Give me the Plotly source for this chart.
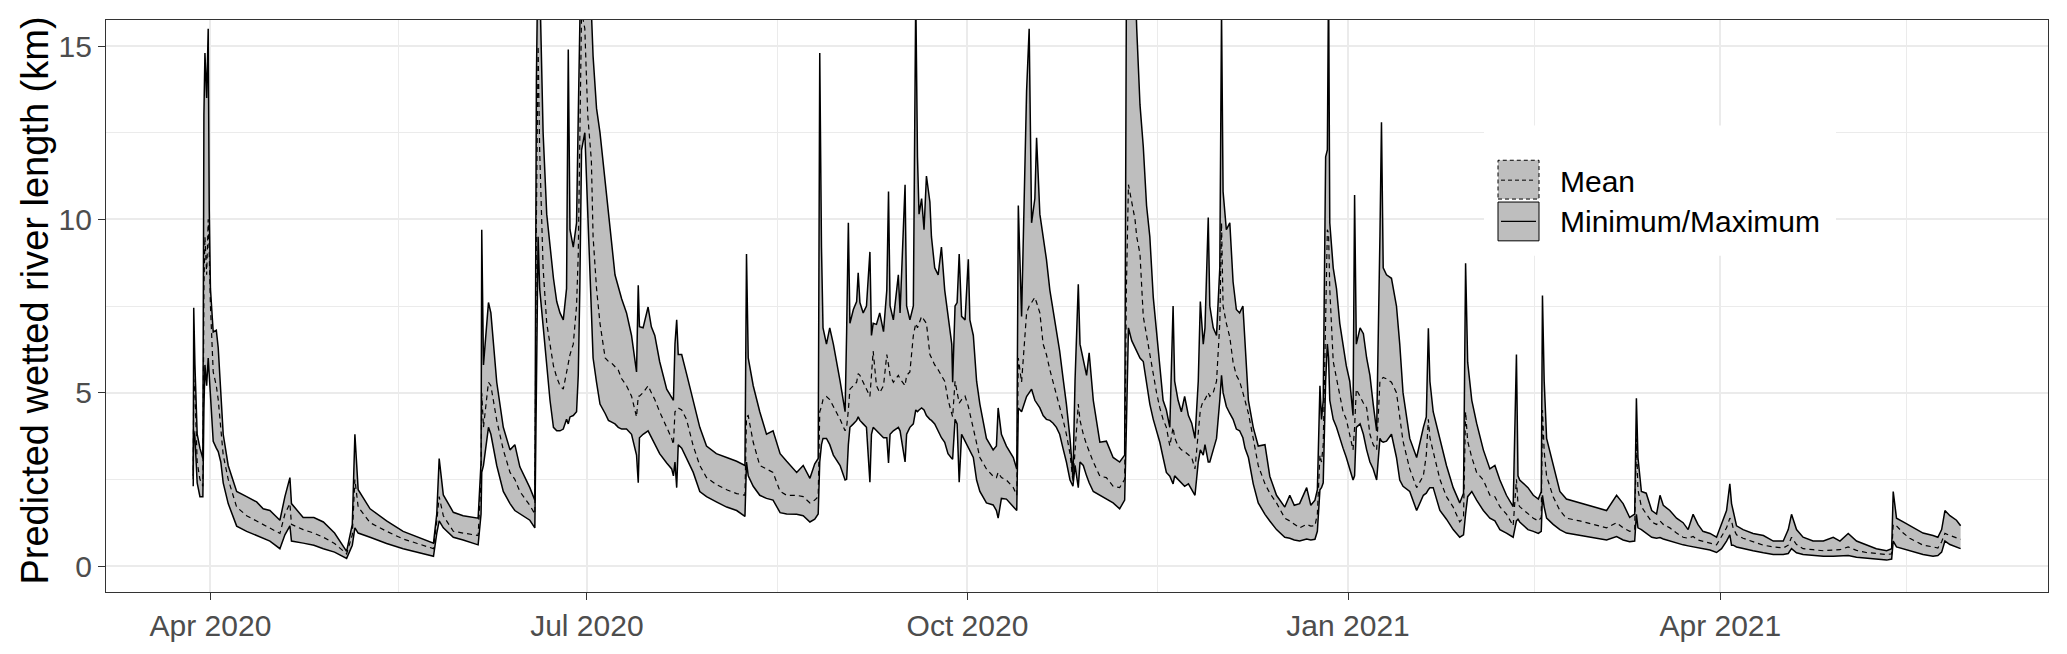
import plotly.graph_objects as go

# ---------------- data ----------------
dates = [
 "2020-03-27 20:00","2020-03-27 23:00","2020-03-28 06:00","2020-03-28 19:00","2020-03-29 11:00","2020-03-30 04:00",
 "2020-03-30 10:00","2020-03-30 16:00","2020-03-31 02:00","2020-03-31 11:00","2020-03-31 17:00","2020-04-01 00:00",
 "2020-04-01 16:00","2020-04-02 10:00","2020-04-02 21:00","2020-04-03 12:00","2020-04-04 02:00","2020-04-05 07:00",
 "2020-04-07 08:00","2020-04-09 18:00","2020-04-12 04:00","2020-04-13 18:00","2020-04-15 09:00","2020-04-17 19:00",
 "2020-04-19 00:00","2020-04-20 05:00","2020-04-20 14:00","2020-04-23 10:00","2020-04-26 00:00","2020-04-28 07:00",
 "2020-05-01 00:00","2020-05-03 22:00","2020-05-05 07:00","2020-05-05 22:00","2020-05-06 17:00","2020-05-09 14:00",
 "2020-05-13 14:00","2020-05-17 14:00","2020-05-21 00:00","2020-05-24 22:00","2020-05-25 17:00","2020-05-26 07:00",
 "2020-05-27 07:00","2020-05-29 17:00","2020-06-01 02:00","2020-06-04 17:00","2020-06-05 10:00","2020-06-05 14:00",
 "2020-06-06 00:00","2020-06-07 05:00","2020-06-07 19:00","2020-06-09 05:00","2020-06-10 19:00","2020-06-12 10:00",
 "2020-06-13 14:00","2020-06-14 19:00","2020-06-17 05:00","2020-06-18 10:00","2020-06-18 19:00","2020-06-19 05:00",
 "2020-06-19 14:00","2020-06-20 10:00","2020-06-21 07:00","2020-06-22 02:00","2020-06-22 22:00","2020-06-23 17:00",
 "2020-06-24 12:00","2020-06-25 07:00","2020-06-26 02:00","2020-06-26 12:00","2020-06-26 22:00","2020-06-27 17:00",
 "2020-06-28 12:00","2020-06-28 22:00","2020-06-29 07:00","2020-06-29 17:00","2020-06-30 12:00","2020-07-01 05:00",
 "2020-07-02 02:00","2020-07-02 12:00","2020-07-03 08:00","2020-07-04 04:00","2020-07-05 10:00","2020-07-06 05:00",
 "2020-07-07 00:00","2020-07-07 19:00","2020-07-08 14:00","2020-07-09 10:00","2020-07-10 14:00","2020-07-11 19:00",
 "2020-07-13 00:00","2020-07-13 10:00","2020-07-13 17:00","2020-07-14 14:00","2020-07-15 19:00","2020-07-16 14:00",
 "2020-07-17 10:00","2020-07-18 14:00","2020-07-20 07:00","2020-07-21 12:00","2020-07-21 22:00","2020-07-22 07:00",
 "2020-07-22 17:00","2020-07-23 02:00","2020-07-23 22:00","2020-07-25 02:00","2020-07-26 17:00","2020-07-28 07:00",
 "2020-07-29 22:00","2020-08-01 07:00","2020-08-03 19:00","2020-08-06 05:00","2020-08-08 05:00","2020-08-08 14:00",
 "2020-08-09 00:00","2020-08-10 05:00","2020-08-11 19:00","2020-08-13 10:00","2020-08-15 00:00","2020-08-16 17:00",
 "2020-08-18 07:00","2020-08-20 17:00","2020-08-22 07:00","2020-08-23 22:00","2020-08-25 02:00","2020-08-25 22:00",
 "2020-08-26 07:00","2020-08-26 17:00","2020-08-27 02:00","2020-08-27 22:00","2020-08-28 17:00","2020-08-29 14:00",
 "2020-08-31 05:00","2020-09-01 10:00","2020-09-01 19:00","2020-09-02 05:00","2020-09-02 14:00","2020-09-03 10:00",
 "2020-09-04 05:00","2020-09-04 14:00","2020-09-05 00:00","2020-09-05 19:00","2020-09-06 14:00","2020-09-07 10:00",
 "2020-09-07 19:00","2020-09-08 05:00","2020-09-09 00:00","2020-09-09 19:00","2020-09-10 17:00","2020-09-11 12:00",
 "2020-09-11 22:00","2020-09-12 07:00","2020-09-13 02:00","2020-09-14 07:00","2020-09-14 17:00","2020-09-15 22:00",
 "2020-09-16 07:00","2020-09-17 02:00","2020-09-17 22:00","2020-09-18 12:00","2020-09-18 22:00","2020-09-19 07:00",
 "2020-09-19 22:00","2020-09-20 12:00","2020-09-21 02:00","2020-09-21 22:00","2020-09-22 07:00","2020-09-23 02:00",
 "2020-09-23 22:00","2020-09-24 17:00","2020-09-25 12:00","2020-09-26 07:00","2020-09-27 05:00","2020-09-27 10:00",
 "2020-09-28 00:00","2020-09-28 12:00","2020-09-29 00:00","2020-09-29 14:00","2020-09-30 10:00","2020-10-01 05:00",
 "2020-10-01 14:00","2020-10-02 10:00","2020-10-03 05:00","2020-10-04 00:00","2020-10-05 14:00","2020-10-07 05:00",
 "2020-10-08 00:00","2020-10-08 10:00","2020-10-09 05:00","2020-10-10 10:00","2020-10-12 02:00","2020-10-12 22:00",
 "2020-10-13 07:00","2020-10-14 02:00","2020-10-15 07:00","2020-10-15 22:00","2020-10-16 12:00","2020-10-17 07:00",
 "2020-10-17 17:00","2020-10-18 12:00","2020-10-19 07:00","2020-10-20 02:00","2020-10-20 22:00","2020-10-21 17:00",
 "2020-10-22 12:00","2020-10-23 07:00","2020-10-24 02:00","2020-10-24 22:00","2020-10-25 19:00","2020-10-26 12:00",
 "2020-10-27 00:00","2020-10-27 19:00","2020-10-28 05:00","2020-10-29 00:00","2020-10-29 19:00","2020-10-30 10:00",
 "2020-10-31 10:00","2020-11-02 00:00","2020-11-03 14:00","2020-11-05 05:00","2020-11-06 19:00","2020-11-08 00:00",
 "2020-11-08 10:00","2020-11-08 22:00","2020-11-09 17:00","2020-11-10 12:00","2020-11-10 22:00","2020-11-11 17:00",
 "2020-11-12 12:00","2020-11-13 07:00","2020-11-14 02:00","2020-11-14 22:00","2020-11-15 17:00","2020-11-16 12:00",
 "2020-11-17 07:00","2020-11-18 02:00","2020-11-18 22:00","2020-11-19 17:00","2020-11-20 02:00","2020-11-20 22:00",
 "2020-11-21 17:00","2020-11-22 12:00","2020-11-23 10:00","2020-11-24 05:00","2020-11-25 00:00","2020-11-25 19:00",
 "2020-11-26 07:00","2020-11-27 00:00","2020-11-27 10:00","2020-11-28 05:00","2020-11-28 14:00","2020-11-29 10:00",
 "2020-11-30 05:00","2020-12-01 00:00","2020-12-01 10:00","2020-12-01 19:00","2020-12-02 14:00","2020-12-03 10:00",
 "2020-12-04 05:00","2020-12-05 00:00","2020-12-05 19:00","2020-12-06 14:00","2020-12-07 02:00","2020-12-07 22:00",
 "2020-12-09 02:00","2020-12-10 07:00","2020-12-11 22:00","2020-12-13 02:00","2020-12-14 17:00","2020-12-16 17:00",
 "2020-12-17 22:00","2020-12-19 00:00","2020-12-20 07:00","2020-12-22 00:00","2020-12-23 00:00","2020-12-24 00:00",
 "2020-12-24 14:00","2020-12-25 05:00","2020-12-25 14:00","2020-12-26 00:00","2020-12-26 14:00","2020-12-27 00:00",
 "2020-12-27 07:00","2020-12-27 14:00","2020-12-28 10:00","2020-12-29 05:00","2020-12-30 00:00","2020-12-30 19:00",
 "2020-12-31 14:00","2021-01-01 10:00","2021-01-02 05:00","2021-01-02 14:00","2021-01-03 00:00","2021-01-03 22:00",
 "2021-01-04 17:00","2021-01-05 12:00","2021-01-06 07:00","2021-01-07 02:00","2021-01-07 22:00","2021-01-08 17:00",
 "2021-01-09 02:00","2021-01-09 12:00","2021-01-10 07:00","2021-01-11 12:00","2021-01-12 17:00","2021-01-13 12:00",
 "2021-01-14 07:00","2021-01-15 22:00","2021-01-17 14:00","2021-01-19 05:00","2021-01-19 22:00","2021-01-20 10:00",
 "2021-01-20 19:00","2021-01-21 14:00","2021-01-23 05:00","2021-01-24 19:00","2021-01-26 10:00","2021-01-28 00:00",
 "2021-01-28 22:00","2021-01-29 10:00","2021-01-29 22:00","2021-01-30 22:00","2021-02-01 02:00","2021-02-02 17:00",
 "2021-02-04 07:00","2021-02-05 12:00","2021-02-06 17:00","2021-02-08 07:00","2021-02-09 22:00","2021-02-10 17:00",
 "2021-02-11 02:00","2021-02-11 12:00","2021-02-13 12:00","2021-02-14 19:00","2021-02-16 00:00","2021-02-16 17:00",
 "2021-02-17 00:00","2021-02-17 10:00","2021-02-18 00:00","2021-02-19 14:00","2021-02-21 05:00","2021-02-22 19:00",
 "2021-02-26 00:00","2021-03-01 07:00","2021-03-04 12:00","2021-03-06 22:00","2021-03-08 12:00","2021-03-10 02:00",
 "2021-03-11 07:00","2021-03-11 17:00","2021-03-12 02:00","2021-03-12 22:00","2021-03-14 02:00","2021-03-15 10:00",
 "2021-03-16 14:00","2021-03-17 10:00","2021-03-18 05:00","2021-03-19 19:00","2021-03-21 10:00","2021-03-23 00:00",
 "2021-03-24 05:00","2021-03-25 10:00","2021-03-26 14:00","2021-03-27 19:00","2021-03-29 12:00","2021-03-31 02:00",
 "2021-04-01 07:00","2021-04-02 12:00","2021-04-03 07:00","2021-04-03 17:00","2021-04-04 02:00","2021-04-04 22:00",
 "2021-04-06 12:00","2021-04-08 22:00","2021-04-11 10:00","2021-04-13 19:00","2021-04-16 05:00","2021-04-17 10:00",
 "2021-04-18 05:00","2021-04-19 10:00","2021-04-21 00:00","2021-04-23 10:00","2021-04-25 22:00","2021-04-28 07:00",
 "2021-04-29 22:00","2021-05-01 22:00","2021-05-03 22:00","2021-05-06 07:00","2021-05-08 17:00","2021-05-11 05:00",
 "2021-05-12 10:00","2021-05-12 19:00","2021-05-13 14:00","2021-05-15 05:00","2021-05-16 19:00","2021-05-18 10:00",
 "2021-05-20 00:00","2021-05-22 10:00","2021-05-23 14:00","2021-05-24 12:00","2021-05-25 07:00","2021-05-26 12:00",
 "2021-05-28 02:00","2021-05-29 02:00",
]

length_min = [
 2.3,3.9,3.7,2.4,2.0,2.0, 4.5,5.8,5.2,6.0,5.5,4.9, 3.6,3.4,3.3,3.0,2.4,1.8,
 1.15,1.0,0.88,0.8,0.72,0.5, 0.9,1.16,0.72,0.66,0.6,0.5, 0.4,0.22,0.6,1.1,0.95,0.83,
 0.65,0.5,0.4,0.28,0.94,1.3, 1.1,0.83,0.75,0.61,1.5,2.7, 2.9,4.0,3.8,2.9,2.15,1.8,
 1.6,1.5,1.32,1.1,6.0,9.5, 8.0,6.9,5.6,4.78,4.0,3.9, 3.9,3.95,4.23,4.1,4.3,4.34,
 4.45,5.5,8.0,12.0,12.5,10.0, 7.5,6.0,5.3,4.67,4.4,4.2, 4.15,4.1,4.0,3.95,3.95,3.8,
 3.2,2.4,3.7,3.8,3.9,3.7, 3.5,3.24,2.97,2.8,2.6,3.0, 2.26,3.5,3.4,3.1,2.7,2.15,
 2.0,1.85,1.7,1.6,1.43,3.0, 2.6,2.3,2.04,1.95,1.9,1.54, 1.5,1.49,1.45,1.27,1.35,1.5,
 3.0,3.5,3.68,3.68,3.5,3.2, 2.9,2.48,2.5,3.5,4.0,4.1, 4.2,4.3,4.2,4.1,4.0,2.42,
 3.8,4.0,3.9,3.8,3.7,3.7, 2.97,3.8,3.9,4.0,3.9,3.0, 3.8,4.0,4.1,4.5,4.45,4.5,
 4.56,4.5,4.34,4.23,4.2,4.1, 3.9,3.7,3.57,3.24,3.1,3.08, 4.23,4.1,2.42,3.8,3.6,3.4,
 3.3,3.13,2.48,2.15,1.82,1.76, 1.6,1.38,1.95,1.93,1.71,1.6, 4.56,4.45,4.89,5.0,5.1,4.78,
 4.7,4.56,4.34,4.23,4.2,4.12, 4.0,3.8,3.4,3.0,2.48,2.3, 2.9,2.26,3.0,2.9,2.6,2.4,
 2.15,2.04,1.95,1.82,1.65,1.9, 4.0,6.87,6.5,6.3,6.2,6.0, 5.9,5.33,4.67,4.23,3.9,3.57,
 3.13,2.7,2.59,2.37,2.6,2.5, 2.4,2.3,2.37,2.2,2.04,3.0, 3.35,3.2,3.5,3.0,3.0,3.35,
 3.68,4.78,5.5,5.0,4.6,4.4, 4.23,3.95,3.9,3.7,3.4,3.13, 2.37,1.82,1.49,1.3,1.05,0.83,
 0.8,0.75,0.72,0.78,0.75,0.77, 1.0,2.2,2.26,2.4,5.33,6.4, 6.0,4.78,4.23,4.0,3.68,3.4,
 3.13,2.8,2.48,2.6,4.0,4.1, 3.8,3.35,3.0,2.8,2.48,3.68, 3.6,3.57,3.6,3.8,3.13,2.48,
 2.3,2.15,1.6,2.04,2.1,2.2, 2.26,2.26,1.6,1.35,1.05,0.83, 0.9,1.5,2.0,2.15,1.9,1.6,
 1.38,1.3,1.05,0.95,0.83,1.3, 1.35,1.27,1.05,1.0,0.94,1.0, 2.04,1.7,1.38,1.2,1.05,0.95,
 0.88,0.83,0.75,0.85,0.75,0.7, 0.72,1.49,1.1,1.05,0.95,0.83, 0.8,0.82,0.78,0.72,0.68,0.61,
 0.58,0.55,0.52,0.5,0.46,0.39, 0.5,0.72,0.9,0.6,0.6,0.55, 0.5,0.44,0.38,0.33,0.33,0.36,
 0.5,0.38,0.33,0.3,0.28,0.28, 0.28,0.3,0.25,0.22,0.2,0.17, 0.2,0.72,0.55,0.5,0.45,0.39,
 0.33,0.28,0.3,0.4,0.72,0.62, 0.55,0.5,
]

length_mean = [
 2.5,5.4,5.0,3.0,2.5,2.3, 8.0,9.5,8.4,10.0,9.0,7.5, 5.6,5.2,4.8,4.0,3.2,2.5,
 1.7,1.45,1.3,1.2,1.1,0.94, 1.5,1.8,1.2,1.05,0.95,0.83, 0.65,0.35,0.9,2.5,1.7,1.25,
 1.0,0.78,0.65,0.5,1.3,2.0, 1.45,1.0,0.95,0.88,2.5,5.0, 4.0,5.3,5.2,4.2,3.35,2.7,
 2.5,2.15,1.75,1.5,10.0,15.0, 12.0,8.6,7.0,6.4,5.77,5.44, 5.2,5.1,5.55,5.8,6.1,6.4,
 7.5,9.0,12.0,16.0,15.5,13.0, 11.7,9.5,8.0,7.0,6.0,5.9, 5.85,5.75,5.65,5.4,5.2,4.9,
 4.3,4.9,4.9,5.0,5.2,5.0, 4.8,4.45,4.0,3.68,3.5,4.45, 4.5,4.56,4.5,4.23,3.46,2.9,
 2.55,2.35,2.2,2.09,2.04,4.3, 4.34,3.57,2.9,2.8,2.7,2.15, 2.04,2.04,2.0,1.82,1.9,2.0,
 4.45,4.6,4.8,4.89,4.8,4.6, 4.23,3.9,4.0,4.5,5.1,5.2, 5.3,5.55,5.5,5.3,5.1,4.89,
 5.5,6.2,5.2,5.0,5.2,6.1, 5.8,5.5,5.3,5.5,5.4,5.2, 5.5,5.6,6.65,7.0,6.87,7.0,
 7.2,7.1,7.0,6.1,6.0,5.8, 5.66,5.5,5.33,4.8,4.45,4.3, 5.33,5.0,4.7,4.8,4.9,4.6,
 4.4,4.0,3.5,3.13,2.8,2.59, 2.55,2.7,2.55,2.48,2.26,2.04, 6.0,5.3,7.3,7.5,7.6,7.75,
 7.6,7.3,6.4,6.1,5.66,5.3, 5.0,4.6,4.23,3.8,3.24,2.45, 3.4,4.67,4.2,3.8,3.5,3.3,
 3.0,2.59,2.55,2.3,2.26,2.5, 8.0,11.0,10.5,10.0,9.5,9.0, 7.2,6.65,6.1,5.44,5.0,4.56,
 4.23,4.0,3.46,4.0,3.7,3.46, 3.35,3.3,3.2,3.13,2.8,4.0, 4.5,4.78,4.8,5.0,4.89,5.0,
 5.33,7.0,9.9,7.5,7.0,6.6, 5.88,5.5,5.33,5.0,4.8,4.4, 3.68,2.9,2.37,2.1,1.82,1.38,
 1.3,1.2,1.1,1.2,1.15,1.16, 1.5,3.2,3.0,3.5,7.5,9.7, 9.6,8.0,5.9,5.44,4.89,4.45,
 4.23,3.8,3.35,4.0,5.1,4.89, 4.7,4.56,3.8,3.5,3.35,5.33, 5.4,5.44,5.4,5.3,5.0,4.3,
 3.6,2.8,2.26,2.6,3.2,4.23, 3.7,3.3,2.5,2.0,1.7,1.27, 1.4,4.45,3.6,3.13,2.7,2.48,
 2.04,2.0,1.71,1.5,1.16,2.5, 1.8,1.71,1.5,1.38,1.3,1.4, 4.5,3.3,2.59,2.0,1.6,1.38,
 1.3,1.2,1.1,1.25,1.1,1.0, 1.05,3.68,2.2,1.71,1.5,1.27, 1.2,1.3,1.2,1.1,0.95,0.83,
 0.8,0.85,0.75,0.72,0.66,0.61, 0.85,1.1,1.38,1.3,1.1,0.9, 0.8,0.7,0.6,0.55,0.52,0.6,
 0.83,0.62,0.5,0.47,0.44,0.46, 0.47,0.55,0.45,0.39,0.36,0.33, 0.35,1.2,1.16,0.95,0.8,0.7,
 0.6,0.55,0.52,0.7,0.94,0.88, 0.8,0.77,
]

length_max = [
 2.6,7.45,5.8,3.8,3.4,3.1, 13.0,14.8,13.5,15.5,10.3,8.0, 6.75,6.8,6.3,5.0,3.8,2.9,
 2.15,2.0,1.85,1.65,1.6,1.32, 2.0,2.55,1.8,1.4,1.4,1.27, 0.95,0.42,1.2,3.8,2.2,1.65,
 1.3,1.0,0.85,0.66,1.5,3.1, 2.05,1.55,1.45,1.38,3.0,9.7, 5.8,7.6,7.3,5.3,4.0,3.35,
 3.5,2.86,2.26,1.9,14.0,18.0, 17.0,12.5,10.15,9.2,8.3,7.63, 7.3,7.1,8.0,14.9,9.7,9.2,
 9.9,13.0,17.0,18.5,18.5,17.5, 16.0,14.7,13.2,12.5,11.0,10.2, 9.3,8.4,8.07,7.7,7.3,6.65,
 5.6,8.1,6.9,6.87,7.47,6.9, 6.65,5.9,5.1,4.85,4.78,6.4, 7.1,6.1,6.1,5.55,4.78,4.0,
 3.46,3.24,3.13,3.02,2.9,9.0, 6.0,5.2,4.45,3.8,3.9,3.24, 3.02,2.7,2.9,2.53,2.95,3.1,
 14.8,9.2,6.87,6.4,6.87,6.4, 5.33,4.45,6.76,9.9,7.0,7.4, 7.63,8.46,7.6,7.3,7.5,9.06,
 6.65,7.0,6.97,7.3,6.76,7.96, 10.8,7.5,7.1,8.4,7.3,11.0, 7.5,7.1,7.5,16.5,11.8,10.15,
 10.6,9.7,11.25,10.5,9.5,8.6, 8.4,9.2,7.96,7.3,6.4,5.3, 7.5,7.6,9.0,7.2,7.1,8.85,
 7.1,6.65,5.33,4.67,3.68,3.35, 3.46,4.56,3.8,3.46,3.13,2.8, 10.4,7.2,13.7,15.5,9.9,10.6,
 12.35,10.15,9.5,8.85,7.96,7.4, 6.87,6.2,5.44,4.67,3.68,2.55, 5.33,8.13,6.4,5.9,5.5,6.15,
 4.78,3.57,3.6,3.13,3.0,3.2, 16.5,17.5,17.5,17.0,15.5,13.3, 12.1,10.4,9.5,7.75,6.76,5.77,
 4.78,4.5,4.0,7.5,5.33,4.78, 4.45,4.89,4.34,4.12,3.68,5.33, 7.63,6.4,6.87,10.05,7.5,6.87,
 6.65,8.6,16.0,10.8,9.7,9.9, 8.2,7.4,7.3,7.5,6.4,4.78, 4.0,3.46,3.5,2.59,2.04,1.7,
 2.04,1.75,1.8,2.26,1.75,1.9, 2.2,5.2,4.23,4.78,11.8,12.0, 17.0,9.9,8.6,8.0,7.0,6.4,
 5.77,5.33,4.34,10.7,6.4,6.87, 6.7,6.0,5.5,4.67,3.9,9.5, 12.8,8.6,8.4,8.3,7.5,6.4,
 5.0,3.68,3.13,4.0,4.3,6.86, 5.33,4.45,3.68,2.9,2.26,1.82, 2.1,8.73,5.88,4.78,4.12,3.35,
 2.8,2.9,2.48,2.04,1.71,6.1, 2.6,2.48,2.26,2.04,1.93,2.15, 7.8,5.33,3.68,2.9,2.15,1.93,
 1.82,1.71,1.6,2.04,1.8,1.4, 1.5,4.84,3.13,2.15,2.1,1.6, 1.5,2.04,1.75,1.6,1.38,1.25,
 1.05,1.49,1.2,1.0,0.94,0.83, 1.2,1.6,2.37,1.8,1.6,1.16, 1.05,0.94,0.88,0.72,0.72,1.05,
 1.49,1.05,0.83,0.72,0.72,0.83, 0.72,0.94,0.72,0.61,0.5,0.44, 0.5,2.15,1.38,1.27,1.16,1.05,
 0.95,0.88,0.83,1.05,1.6,1.45, 1.32,1.16,
]

x_tick_vals = ["2020-04-01", "2020-07-01", "2020-10-01", "2021-01-01", "2021-04-01"]
x_tick_text = ["Apr 2020", "Jul 2020", "Oct 2020", "Jan 2021", "Apr 2021"]
x_minor_vals = ["2020-05-16 12:00", "2020-08-16", "2020-11-16", "2021-02-15", "2021-05-16"]
y_tick_vals = [0, 5, 10, 15]
y_minor_vals = [2.5, 7.5, 12.5]
legend_labels = ["Mean", "Minimum/Maximum"]
y_title = "Predicted wetted river length (km)"

# ---------------- figure ----------------
FONT = "Liberation Sans, Arial, Helvetica, sans-serif"
RIBBON = "#BEBEBE"

fig = go.Figure()
fig.add_trace(go.Scatter(x=dates, y=length_min, mode="lines", line=dict(width=0),
                         hoverinfo="skip", showlegend=False))
fig.add_trace(go.Scatter(x=dates, y=length_max, mode="lines", line=dict(width=0),
                         fill="tonexty", fillcolor=RIBBON, hoverinfo="skip", showlegend=False))
fig.add_trace(go.Scatter(x=dates, y=length_mean, mode="lines",
                         line=dict(color="black", width=1.2, dash="5px,4px"), showlegend=False))
fig.add_trace(go.Scatter(x=dates, y=length_min, mode="lines",
                         line=dict(color="black", width=1.5), showlegend=False))
fig.add_trace(go.Scatter(x=dates, y=length_max, mode="lines",
                         line=dict(color="black", width=1.5), showlegend=False))

# plot-area geometry in pixels (for the hand-built legend)
W, H = 2067, 654
L, R, T, B = 106, 19, 20, 59
pw, ph = W - L - R, H - T - B

def px(x):
    return (x - L) / pw

def py(y):
    return (H - B - y) / ph

shapes = [
    dict(type="rect", xref="paper", yref="paper", x0=px(1484), x1=px(1836), y0=py(257), y1=py(126),
         fillcolor="white", line=dict(width=0), layer="above"),
    dict(type="rect", xref="paper", yref="paper", x0=px(1498), x1=px(1539), y0=py(200), y1=py(161),
         fillcolor=RIBBON, line=dict(color="black", width=1, dash="4px,3px"), layer="above"),
    dict(type="line", xref="paper", yref="paper", x0=px(1501), x1=px(1536), y0=py(181), y1=py(181),
         line=dict(color="black", width=1, dash="4px,3px"), layer="above"),
    dict(type="rect", xref="paper", yref="paper", x0=px(1498), x1=px(1539), y0=py(242), y1=py(203),
         fillcolor=RIBBON, line=dict(color="black", width=1), layer="above"),
    dict(type="line", xref="paper", yref="paper", x0=px(1501), x1=px(1536), y0=py(222.5), y1=py(222.5),
         line=dict(color="black", width=1.3), layer="above"),
]

annotations = [
    dict(text=legend_labels[0], xref="paper", yref="paper", x=px(1558), y=py(182), xanchor="left",
         yanchor="middle", showarrow=False, font=dict(family=FONT, size=30, color="black")),
    dict(text=legend_labels[1], xref="paper", yref="paper", x=px(1558), y=py(223), xanchor="left",
         yanchor="middle", showarrow=False, font=dict(family=FONT, size=30, color="black")),
    dict(text=y_title, xref="paper", yref="paper", x=px(35), y=py(302), xanchor="center",
         yanchor="middle", textangle=-90, showarrow=False, font=dict(family=FONT, size=38, color="black")),
]

fig.update_layout(
    width=W, height=H,
    margin=dict(l=L, r=R, t=T, b=B, pad=0),
    paper_bgcolor="white", plot_bgcolor="white",
    showlegend=False,
    shapes=shapes, annotations=annotations,
    font=dict(family=FONT),
)

fig.update_xaxes(
    type="date", range=["2020-03-06 18:00", "2021-06-19 05:00"],
    tickmode="array", tickvals=x_tick_vals, ticktext=x_tick_text,
    tickfont=dict(family=FONT, size=30, color="#4D4D4D"),
    ticks="outside", ticklen=7, tickwidth=1.3, tickcolor="#333333",
    showgrid=True, gridcolor="#EBEBEB", gridwidth=2,
    minor=dict(tickmode="array", tickvals=x_minor_vals, showgrid=True, gridcolor="#EBEBEB", gridwidth=1, ticks=""),
    showline=True, mirror=True, linecolor="#333333", linewidth=1.3, zeroline=False,
)
fig.update_yaxes(
    range=[-0.75, 15.75],
    tickmode="array", tickvals=y_tick_vals,
    tickfont=dict(family=FONT, size=30, color="#4D4D4D"),
    ticks="outside", ticklen=7, tickwidth=1.3, tickcolor="#333333",
    showgrid=True, gridcolor="#EBEBEB", gridwidth=2,
    minor=dict(tickmode="array", tickvals=y_minor_vals, showgrid=True, gridcolor="#EBEBEB", gridwidth=1, ticks=""),
    showline=True, mirror=True, linecolor="#333333", linewidth=1.3, zeroline=False,
)

fig.write_html(
    "out.html",
    config={"displayModeBar": False},
    post_script="document.body.style.margin='0';document.body.style.overflow='hidden';",
)
